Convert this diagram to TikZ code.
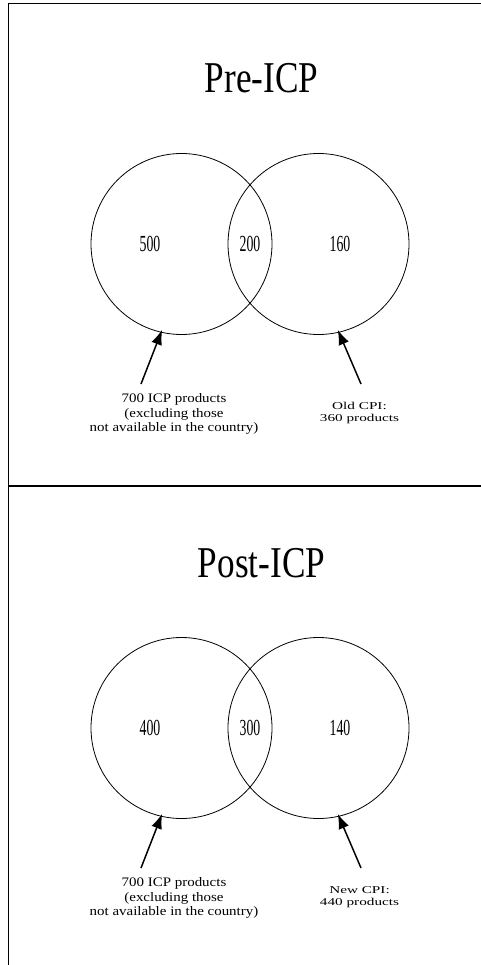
\documentclass[tikz,border=0pt]{standalone}
\usepackage{fontspec}
\setmainfont{Liberation Serif}
\usepackage{tikz}
\usetikzlibrary{positioning,arrows.meta}
\newfontfamily\titlefont[FakeStretch=0.8]{Liberation Serif}
\newfontfamily\countfont[FakeStretch=0.6]{Liberation Serif}
\newfontfamily\notefont[FakeStretch=1.15]{Liberation Serif}
\newfontfamily\cpifont[FakeStretch=1.45]{Liberation Serif}
\definecolor{inkcolor}{RGB}{0, 0, 0}
\tikzset{
    venn set/.style={circle, draw=inkcolor, line width=0.8pt, minimum size=181pt, inner sep=0pt},
    set count/.style={font=\countfont\fontsize{23}{23}\selectfont, inner sep=0pt},
    panel title/.style={font=\titlefont\fontsize{44}{44}\selectfont, inner sep=0pt, anchor=base},
    icp note/.style={align=center, font=\notefont\fontsize{13}{14.5}\selectfont, inner sep=0pt},
    cpi note/.style={align=center, font=\cpifont\fontsize{10.5}{12}\selectfont, inner sep=0pt},
    pointer/.style={-{Latex[length=15pt,width=11pt]}, line width=1.5pt, shorten >=-3pt},
    frame line/.style={draw=inkcolor, line width=1.3pt}
}

\begin{document}
\begin{tikzpicture}[x=1pt,y=-1pt]
\useasboundingbox (0,0) rectangle (481,965);
% frame
\draw[frame line] (8.5,965) -- (8.5,3.5) -- (481,3.5);
\draw[frame line, line width=2pt] (8.5,486) -- (481,486);

% Pre-ICP
\node[panel title] (preTitle) at (261.5,93) {Pre-ICP};
\node[venn set] (preL) at (181.5,244) {};
\node[venn set] (preR) at (318.5,244) {};
\node[set count] (preA) at (150,244) {500};
\node[set count] (preB) at (250,244) {200};
\node[set count] (preC) at (340,244) {160};
\node[icp note] (preIcp) at (174,414) {700 ICP products\\(excluding those\\not available in the country)};
\node[cpi note] (preCpi) at (359.5,413) {Old CPI:\\360 products};
\coordinate (preTailL) at (141,384);
\coordinate (preTailR) at (361,384);
\draw[pointer] (preTailL) -- (preL.257);
\draw[pointer] (preTailR) -- (preR.283);

% Post-ICP
\node[panel title] (postTitle) at (261.5,577) {Post-ICP};
\node[venn set] (postL) at (181.5,728) {};
\node[venn set] (postR) at (318.5,728) {};
\node[set count] (postA) at (150,728) {400};
\node[set count] (postB) at (250,728) {300};
\node[set count] (postC) at (340,728) {140};
\node[icp note] (postIcp) at (174,898) {700 ICP products\\(excluding those\\not available in the country)};
\node[cpi note] (postCpi) at (359.5,897) {New CPI:\\440 products};
\coordinate (postTailL) at (141,868);
\coordinate (postTailR) at (361,868);
\draw[pointer] (postTailL) -- (postL.257);
\draw[pointer] (postTailR) -- (postR.283);
\end{tikzpicture}
\end{document}
